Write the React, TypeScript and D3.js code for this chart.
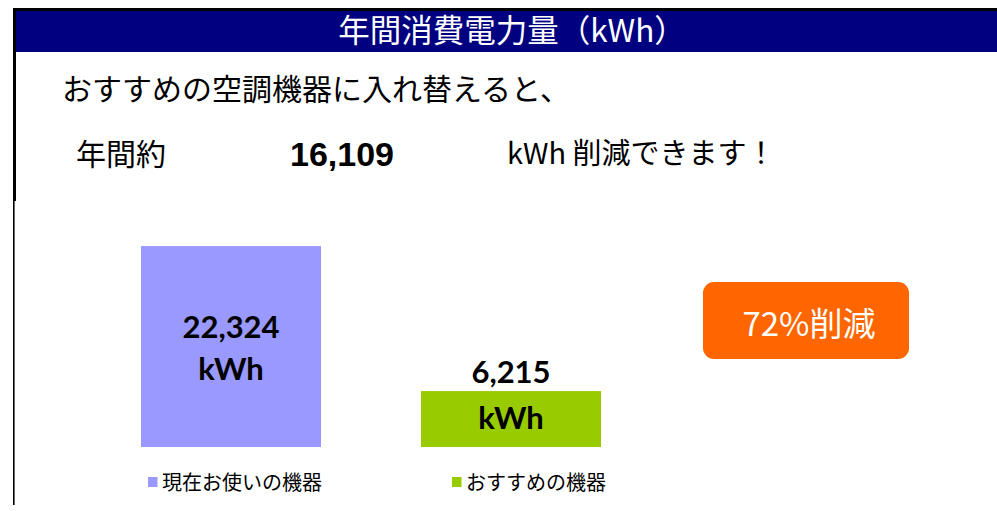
import React, { useEffect, useRef } from "react";
import * as d3 from "d3";

// chart data
const categories = ["現在お使いの機器", "おすすめの機器"];
const values = [22324, 6215];
const colors = ["#9999FF", "#99CC00"];
const unit = "kWh";
const title = "年間消費電力量（kWh）";
const headline = "おすすめの空調機器に入れ替えると、";
const savedLabelPre = "年間約";
const savedLabelPost = "kWh 削減できます！";
const reductionLabel = "削減";

// legend item left edges (layout)
const legendX = [148, 452];

const App = () => {
  const ref = useRef<SVGSVGElement>(null);

  useEffect(() => {
    const width = 997;
    const height = 511;
    const svg = d3.select(ref.current).attr("width", width).attr("height", height);
    svg.selectAll("*").remove();

    const jp = "'Noto Sans CJK JP', 'Noto Sans', sans-serif";
    const calibri = "Lato, 'Open Sans', sans-serif";

    // frame lines
    svg.append("rect").attr("x", 13).attr("y", 8).attr("width", width - 13).attr("height", 3).attr("fill", "#000");
    svg.append("rect").attr("x", 13).attr("y", 8).attr("width", 3).attr("height", 193).attr("fill", "#000");
    svg.append("rect").attr("x", 13).attr("y", 201).attr("width", 1.6).attr("height", 304).attr("fill", "#000");

    // title bar
    svg.append("rect").attr("x", 16).attr("y", 11).attr("width", width - 16).attr("height", 41).attr("fill", "#000080");
    svg.append("text")
      .attr("x", 512).attr("y", 42)
      .attr("text-anchor", "middle")
      .attr("fill", "#fff")
      .style("font-family", jp)
      .style("font-size", "31.5px")
      .text(title);

    svg.append("text")
      .attr("x", 62).attr("y", 100)
      .style("font-family", jp)
      .style("font-size", "30px")
      .attr("fill", "#000")
      .text(headline);

    const saved = values[0] - values[1];
    svg.append("text")
      .attr("x", 76).attr("y", 165)
      .style("font-family", jp)
      .style("font-size", "30px")
      .text(savedLabelPre);
    svg.append("text")
      .attr("x", 290).attr("y", 166)
      .style("font-family", "'Liberation Sans', Arial, sans-serif")
      .style("font-weight", "bold")
      .style("font-size", "34px")
      .text(d3.format(",")(saved));
    svg.append("text")
      .attr("x", 507).attr("y", 164)
      .style("font-family", jp)
      .style("font-size", "29px")
      .text(savedLabelPost);

    // bars
    const x = d3.scaleBand<string>()
      .domain(categories)
      .range([91, 651])
      .paddingInner(100 / 280)
      .paddingOuter(50 / 280);
    const y = d3.scaleLinear().domain([0, 25000]).range([447, 222]);

    const g = svg.append("g");
    g.selectAll("rect.bar")
      .data(values)
      .join("rect")
      .attr("class", "bar")
      .attr("x", (d, i) => x(categories[i])!)
      .attr("y", d => y(d))
      .attr("width", x.bandwidth())
      .attr("height", d => y(0) - y(d))
      .attr("fill", (d, i) => colors[i]);

    // value labels: centred in the bar, number pushed above if the bar is short
    values.forEach((v, i) => {
      const cx = x(categories[i])! + x.bandwidth() / 2;
      const mid = (y(v) + y(0)) / 2;
      const tall = y(0) - y(v) > 100;
      const numY = tall ? mid - 9 : y(v) - 8;
      const unitY = tall ? mid + 33 : mid + 10;
      const lab = g.append("g")
        .style("font-family", calibri)
        .style("font-weight", "bold")
        .style("font-size", "31px")
        .attr("text-anchor", "middle")
        .attr("fill", "#000");
      lab.append("text").attr("x", cx).attr("y", numY).text(d3.format(",")(v));
      lab.append("text").attr("x", cx).attr("y", unitY).text(unit);
    });

    // legend
    categories.forEach((c, i) => {
      const lx = legendX[i];
      svg.append("rect").attr("x", lx).attr("y", 477).attr("width", 9.5).attr("height", 10).attr("fill", colors[i]);
      svg.append("text")
        .attr("x", lx + 14).attr("y", 490)
        .style("font-family", jp)
        .style("font-size", "20px")
        .text(c);
    });

    // reduction badge
    const pct = Math.round((saved / values[0]) * 100);
    svg.append("rect")
      .attr("x", 703).attr("y", 282)
      .attr("width", 206).attr("height", 77)
      .attr("rx", 11)
      .attr("fill", "#FF6600");
    svg.append("text")
      .attr("x", 809).attr("y", 336)
      .attr("text-anchor", "middle")
      .attr("fill", "#fff")
      .style("font-family", jp)
      .style("font-size", "33px")
      .text(`${pct}%${reductionLabel}`);
  }, []);

  return (
    <div style={{ position: "absolute", left: 0, top: 0 }}>
      <svg ref={ref} style={{ display: "block" }} />
    </div>
  );
};

export default App;
